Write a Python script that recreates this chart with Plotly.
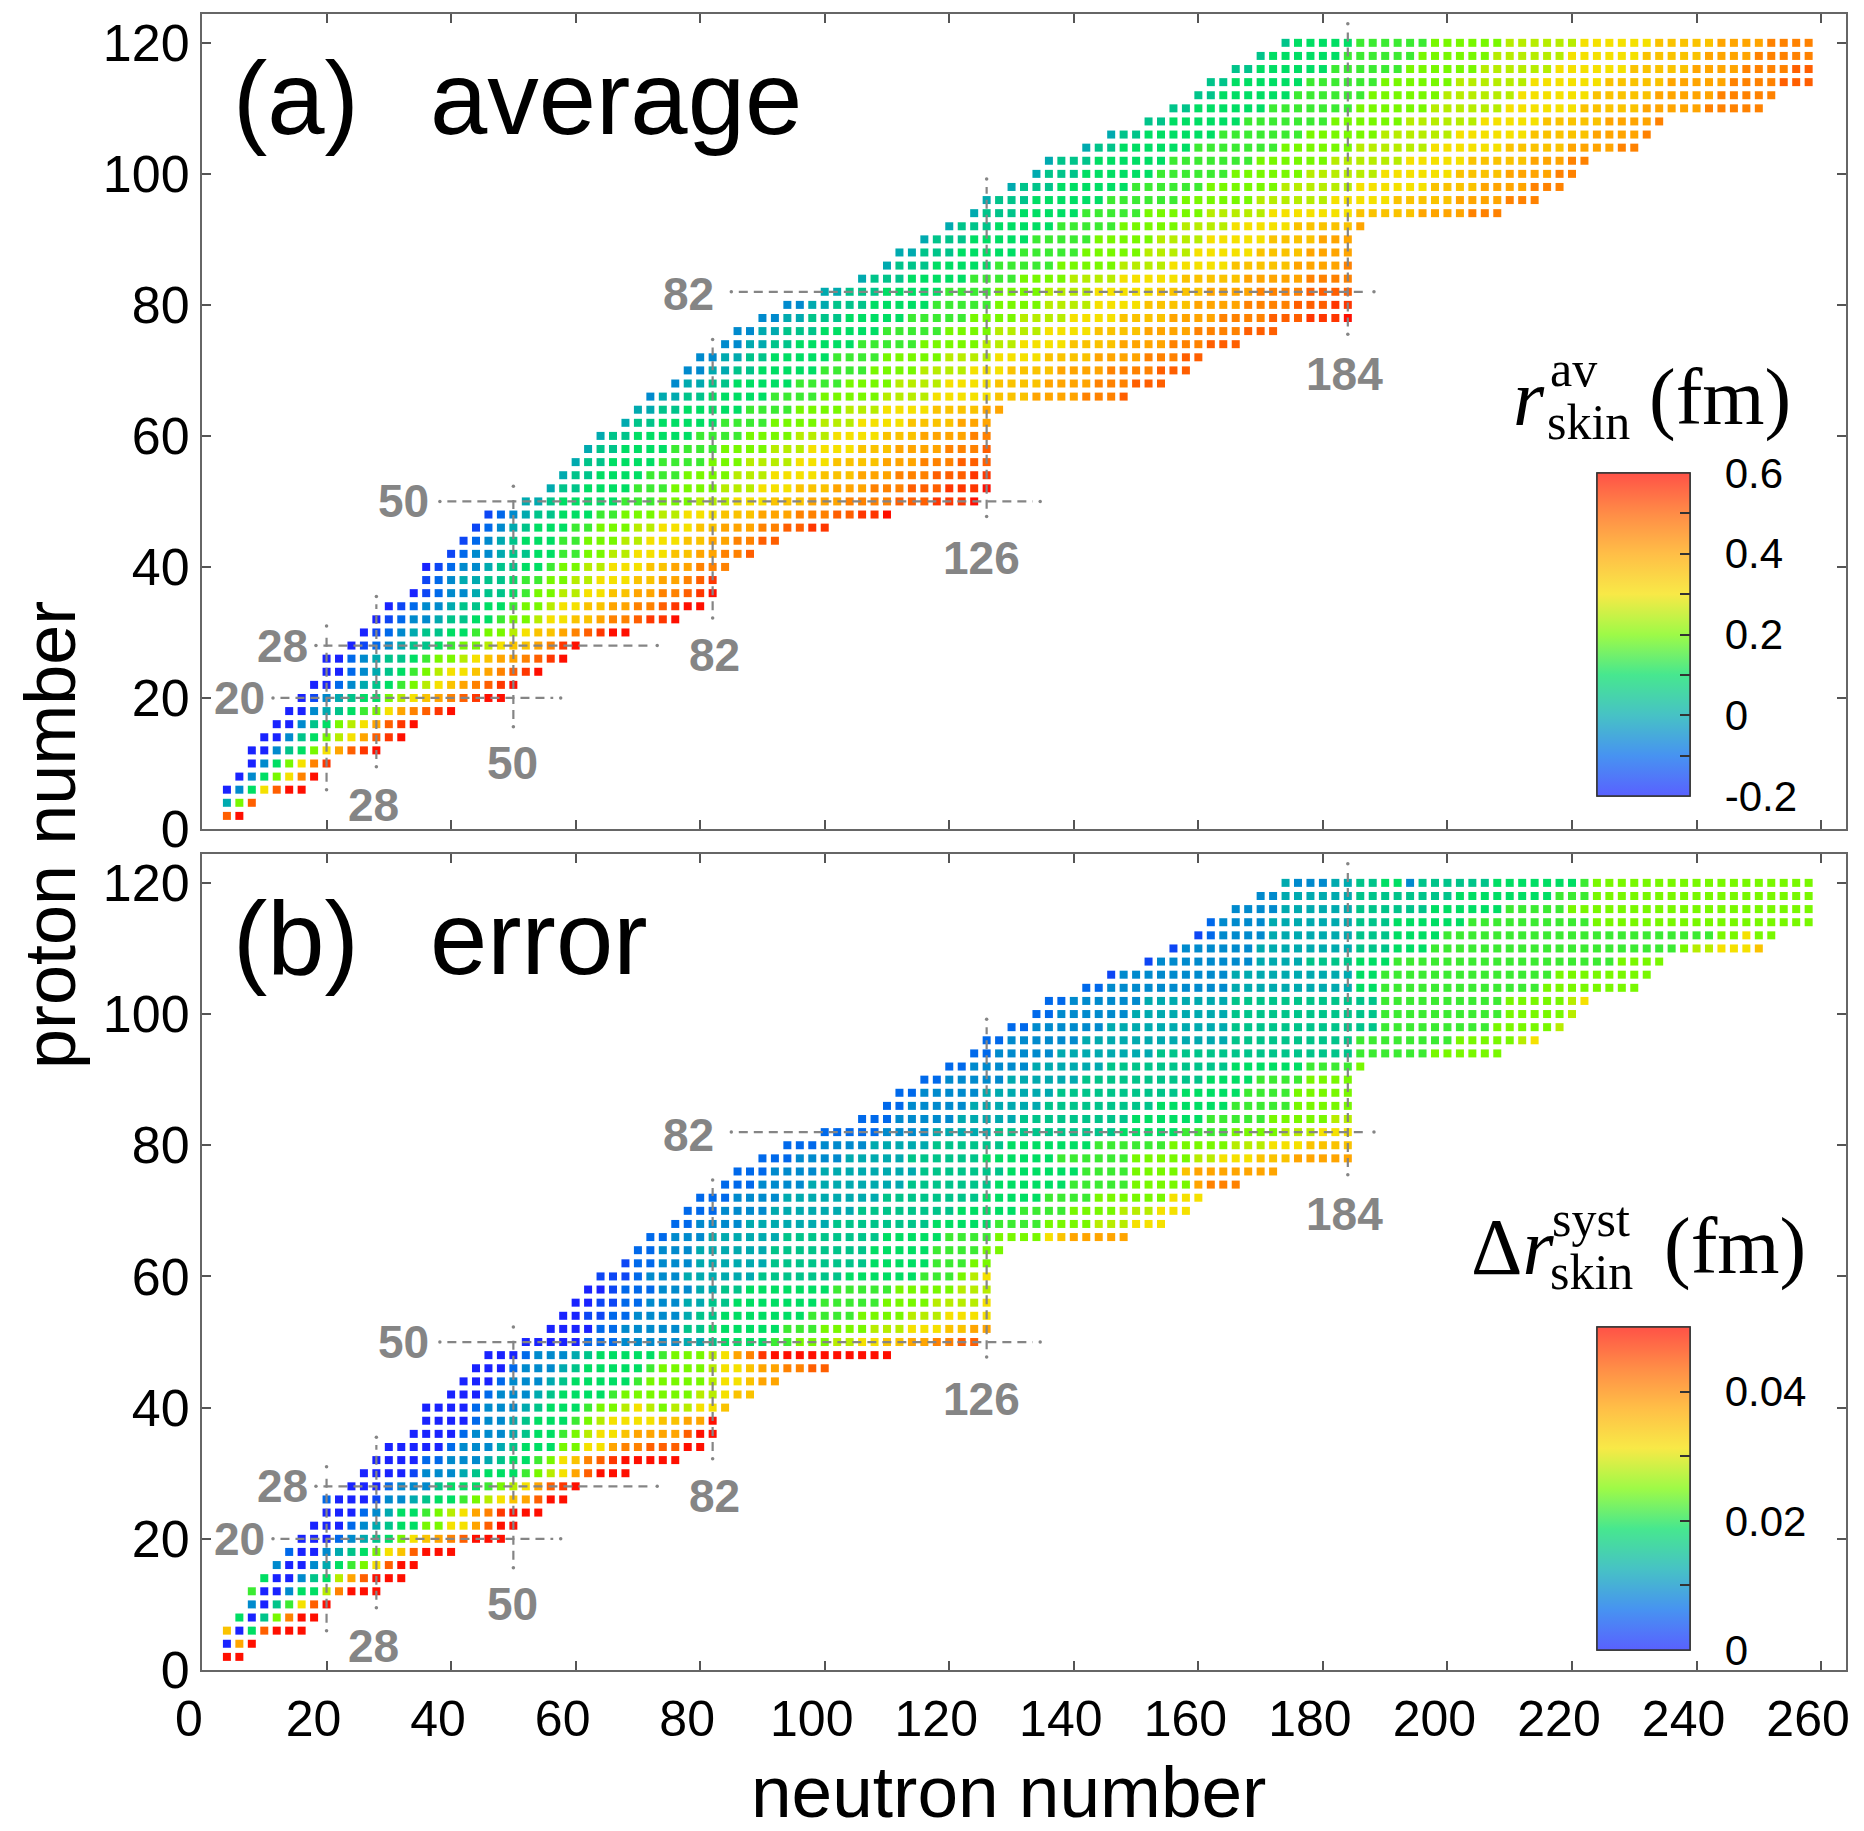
import re
import plotly.graph_objects as go

# ------------------------------------------------------------------ data
# even-even nuclei: one row per proton number Z, first / last neutron number
Z_rows = [2, 4, 6, 8, 10, 12, 14, 16, 18, 20, 22, 24, 26, 28, 30, 32, 34, 36, 38, 40,
          42, 44, 46, 48, 50, 52, 54, 56, 58, 60, 62, 64, 66, 68, 70, 72, 74, 76, 78, 80,
          82, 84, 86, 88, 90, 92, 94, 96, 98, 100, 102, 104, 106, 108, 110, 112, 114, 116, 118, 120]
N_first = [4, 4, 4, 6, 8, 8, 10, 12, 14, 16, 18, 20, 20, 24, 26, 28, 30, 34, 36, 36,
           40, 42, 44, 46, 52, 56, 58, 60, 62, 64, 68, 70, 72, 76, 78, 80, 84, 86, 90, 94,
           100, 106, 110, 112, 116, 120, 124, 126, 130, 134, 136, 142, 146, 152, 156, 160, 162, 166, 170, 174]
N_last = [6, 8, 16, 18, 20, 28, 32, 34, 40, 48, 50, 54, 58, 60, 68, 76, 80, 82, 82, 84,
          88, 92, 100, 110, 124, 126, 126, 126, 126, 126, 126, 128, 148, 154, 158, 160, 166, 172, 184, 184,
          184, 184, 184, 184, 184, 186, 208, 214, 218, 220, 222, 230, 232, 234, 250, 252, 258, 258, 258, 258]

# colour level per nucleus along each row (A = scale minimum ... Q = scale maximum, 17 levels);
# a letter may be followed by a repeat count
r_skin_av_levels = [
    "OQ", "EIO", "ADGKOQQ", "ADGIKNQ", "ADGIKNP", "AADFGIKMOPQ", "AADFGIJKMOPQ", "AADFGIJKMOPQ",
    "AADEFGHIKMNOPQ", "ABDEFGGIJKLMNOPQQ", "AACDEFGHIJKLMNOPQ", "AACDEFGHIJKKLMNOPQ",
    "AACDEFFGHIIJKLMMNOPQ", "ABCDEFFGHIIJKLLMNPQ", "ABCDEFFGGHIIJKLLMNOPQQ",
    "ABCDDEFFGGHIIJKKLLMNNOPPQ", "ABCDDEFFGGHIIJKKLLMMNNOPQQ", "ABCDDEFFGHIIJJKKLLMMNNOPQ",
    "BCDEEFFGHHIIJJKKKLLMMNOP", "ABCDDEFFGGHIIJJKKKLLMMNNN", "BCDDEFFGGHHIIJJKKKLLMMNNO",
    "BCDEFGGGHHIIIJJKKKLLMMNNOO", "BCDEFG3H2I3J2K3L2M3N2O2P2", "BCDEF2G3H2I3J2K3L3M3N3O2P2Q",
    "E2FG5H3I3J3K3L3M3N4O3P3Q", "EF2G4H3I4J3K3L3M3N3O3P3Q", "EF2G4H3I4J3K4L3M3N3O3P2",
    "EF2G4H4I3J4K3L4M3N3O3", "EF2G4H4I4J3K4L3M4N3O", "EF2G5H4I4J3K4L3M4N2",
    "EF2G5H4I4J3K4L4M3", "E2F2G5H4I4J3K4L4M2", "DE2F2G5H4I5J4K5L3M4N3O",
    "DE2F2G5H4I4J4K4L4M4N3O3", "D2E2F2G5H4I4J4K3L4M4N4O3", "D2E2F2G5H4I5J4K4L4M4N3O2",
    "D2E2F2G5H5I5J3K4L4M4N3O3", "D2E2F3G5H5I4J4K4L4M4N4O3", "D2E2F3G5H5I4J4K4L4M4N4O3P3Q",
    "D2E2F3G5H5I4J4K4L4M4N4O3P2", "E2F3G5H4I4J4K5L4M4N4O4", "EF3G5H4I4J4K5L5M5N4",
    "EF3G5H5I5J4K5L5M4N", "E2F3G5H5I5J4K5L4M4", "EF3G5H5I5J4K5L4M3", "EF3G5H5I5J4K5L5M",
    "EF3G5H5I5J5K7L5M4N3", "EF3G6H6I6J6K5L5M4N3", "EF3G6H6I6J6K6L4M4N3",
    "EF3G6H6I6J6K6L4M4N2", "EF3G6H7I6J6K5L5M3N2", "EF2G6H7I6J6K6L5M4N2",
    "EF2G6H7I6J6K6L5M4N", "F2G6H7I6J6K5L5M4N", "F2G6H7I6J6K6L5M5N5", "F2G6H6I6J6K6L5M5N5",
    "F2G6H6I6J6K6L5M5N4O3", "F2G6H6I6J6K6L5M4N4O2", "FG6H6I6J6K6L5M4N5", "FG5H6I6J6K6L5M4N4",
]
dr_skin_syst_levels = [
    "QQ", "AMQ", "LAGOQQQ", "GAFINQQ", "DAFHKOQ", "HAADGGJNQQQ", "GAADFGJMOQQQ", "DAADEGHIKOQQ",
    "CAADEFGIKLOQQQ", "AAACDEFGIKLMNOQQQ", "AAACDEFGGIIKKMOQQ", "AAACDEGGHIJKMNPQQQ",
    "CAAABDDEFGGHIJKLMOQQ", "AAACDDDFGGGHIJKMOPQ", "AAAABDDDEFGGGHIJKMOQQQ",
    "A4C2D3EFG2HIKLNOPQ5", "AAAAACDDDEFGGGIIKKMNNOOOQQ", "AAAACDDDEFGGHIJKKLMMMMOQQ",
    "AAAACDDEFGGGHIJKKKKLLMMQ", "AAAACDDDEFGGGHIIJKJIJJKKL", "AAACDDDEFGGGGHIIIIIIJJKLL",
    "AAACDDDEFGGGGGHIIIIIJKKLMM", "A3CD3EFG5HI4JK2LM2N2O2", "A3CD3EFG5HI3JKMNPQ10",
    "A5C3D5E2FG4H2I3J2K2L2M2N2O2", "A4C2D5F2G6H3I4J3K3L2M2", "A2B2C2D4EF2G7H4I4J3K4",
    "A2B2C2D3E2F2G7H5I4J4K", "A2BC3D3E2F2G7H5I5J3", "B3CD3E6F7G6H3IJK",
    "BC2D3E6F8G5H3I2", "C2D3E6F8G5H4I2", "C2D3E6F8G5H4I4KLM5",
    "C2D4E7F8G5H4I4J3K3", "C3D4E7F8G5H4I4J3K3", "C3D4E8F8G5H4I6K3",
    "C3D4E8F7G6H5I5MN3", "C3D4E8F7G6H4I4LM7", "C3D4E5F6G6H6I5J2K3L3M5",
    "C3D4E5F6G7H6I5J3K3L4", "C5D4E5F10G5H4I4J3K3", "C3D5E5F9G6H5I5J2",
    "C2D5E6F9G6H5I5", "C2D5E6F10G5H4I5", "C2D5E6F10G4H4I4", "C2D5E6F10G6H4I",
    "C2D5E8F16H6I6", "C2D6E12F10H8I5JK", "C2D6E10F12H9I5J", "C2D6E8F12H10I5J",
    "C2D6E7F12H10I5JK", "C2D10E10G2H13I8", "BD9E10G2H14I8", "BD8E4F4G3H18I4",
    "BD6E8F3G3H20IJ2K3L", "BCD4E7F3G4H22I2KI2", "CD4E7F3G6H10I18", "D4E6F6G6H5I20",
    "D2E6F8G8H3I18", "ED3E2F2G2DF6G7HI18",
]
av_range = [-0.2, 0.6]       # fm
err_range = [0.0, 0.05]      # fm
av_ticks = [-0.2, 0.0, 0.2, 0.4, 0.6]
av_ticktext = ["-0.2", "0", "0.2", "0.4", "0.6"]
av_minor = [-0.1, 0.0, 0.1, 0.2, 0.3, 0.4, 0.5]
err_ticks = [0.0, 0.02, 0.04]
err_ticktext = ["0", "0.02", "0.04"]
err_minor = [0.01, 0.02, 0.03, 0.04]

# magic numbers
magic_vert_N = [20, 28, 50, 82, 126, 184]
magic_vert_Zlo = [6.0, 9.5, 15.6, 32.2, 47.7, 75.5]
magic_vert_Zhi = [31.0, 35.5, 52.3, 74.7, 99.2, 122.9]
magic_horiz_Z = [20, 28, 50, 82]
magic_horiz_Nlo = [11.4, 18.3, 38.2, 85.0]
magic_horiz_Nhi = [57.6, 73.1, 134.6, 188.2]
magic_label_text = ["20", "28", "28", "50", "50", "82", "82", "126", "184"]
magic_label_N = [6.0, 13.0, 27.6, 32.3, 49.9, 78.1, 82.3, 125.2, 183.4]
magic_label_Z = [20.0, 28.0, 3.6, 50.0, 10.0, 81.6, 26.5, 41.3, 69.5]

x_ticks = [0, 20, 40, 60, 80, 100, 120, 140, 160, 180, 200, 220, 240, 260]
y_ticks = [0, 20, 40, 60, 80, 100, 120]

# ------------------------------------------------------------------ helpers
W, H = 1864, 1831
L, R, T, B = 202, 1846, 14, 1670


def XP(px):
    return (px - L) / (R - L)


def YP(py):
    return (B - py) / (B - T)


def decode(code):
    out = []
    for ch, num in re.findall(r"([A-Q])(\d*)", code):
        out += [ch] * (int(num) if num else 1)
    return out


def build(level_rows, vrange):
    xs, ys, cs = [], [], []
    lo, hi = vrange
    for z, n0, n1, code in zip(Z_rows, N_first, N_last, level_rows):
        lv = decode(code)
        n_exp = (n1 - n0) // 2 + 1
        if len(lv) != n_exp:
            print("row Z=%d: %d levels, expected %d" % (z, len(lv), n_exp))
        for i, ch in enumerate(lv[:n_exp]):
            xs.append(n0 + 2 * i)
            ys.append(z)
            cs.append(lo + (hi - lo) * (ord(ch) - 65) / 16.0)
    return xs, ys, cs


SAT = [(0.000, (25, 35, 255)), (0.125, (0, 105, 235)), (0.250, (0, 170, 175)),
       (0.375, (0, 222, 100)), (0.500, (120, 248, 0)), (0.625, (245, 225, 0)),
       (0.750, (255, 165, 0)), (0.875, (255, 95, 0)), (1.000, (255, 15, 0))]


def scale(alpha):
    out = []
    for f, (r, g, b) in SAT:
        r2 = round(alpha * r + (1 - alpha) * 255)
        g2 = round(alpha * g + (1 - alpha) * 255)
        b2 = round(alpha * b + (1 - alpha) * 255)
        out.append([f, "rgb(%d,%d,%d)" % (r2, g2, b2)])
    return out


SAT_SCALE = scale(1.0)
PASTEL_SCALE = scale(0.72)

SANS = "Liberation Sans, Arial, sans-serif"
SERIF = "Liberation Serif, Times New Roman, serif"
GRAY = "#858585"

fig = go.Figure()

panels = [
    dict(levels=r_skin_av_levels, rng=av_range, xa="x", ya="y", ticks=av_ticks,
         ticktext=av_ticktext, minor=av_minor, cb_mid=634.5),
    dict(levels=dr_skin_syst_levels, rng=err_range, xa="x2", ya="y2", ticks=err_ticks,
         ticktext=err_ticktext, minor=err_minor, cb_mid=1488.5),
]

for p in panels:
    xs, ys, cs = build(p["levels"], p["rng"])
    fig.add_trace(go.Scatter(
        x=xs, y=ys, mode="markers", xaxis=p["xa"], yaxis=p["ya"],
        marker=dict(symbol="square", size=8, color=cs, cmin=p["rng"][0], cmax=p["rng"][1],
                    colorscale=SAT_SCALE, showscale=False, line=dict(width=0)),
        hoverinfo="skip", showlegend=False))

    # magic-number lines
    lx, ly, dx, dy = [], [], [], []
    for n, z0, z1 in zip(magic_vert_N, magic_vert_Zlo, magic_vert_Zhi):
        lx += [n, n, None]
        ly += [z0 + 1.2, z1 - 1.2, None]
        dx += [n, n]
        dy += [z0, z1]
    for z, n0, n1 in zip(magic_horiz_Z, magic_horiz_Nlo, magic_horiz_Nhi):
        lx += [n0 + 1.2, n1 - 1.2, None]
        ly += [z, z, None]
        dx += [n0, n1]
        dy += [z, z]
    fig.add_trace(go.Scatter(x=lx, y=ly, mode="lines", xaxis=p["xa"], yaxis=p["ya"],
                             line=dict(color=GRAY, width=2.2, dash="9px,6px"),
                             hoverinfo="skip", showlegend=False))
    fig.add_trace(go.Scatter(x=dx, y=dy, mode="markers", xaxis=p["xa"], yaxis=p["ya"],
                             marker=dict(color=GRAY, size=3.5, symbol="circle"),
                             hoverinfo="skip", showlegend=False))
    for t, n, z in zip(magic_label_text, magic_label_N, magic_label_Z):
        fig.add_annotation(x=n, y=z, xref=p["xa"], yref=p["ya"], text=t, showarrow=False,
                           xanchor="center", yanchor="middle",
                           font=dict(family=SANS, size=46, color=GRAY, weight="bold"))

    # colour bar (labels) + overlay colour bar (inner ticks)
    cb_common = dict(x=XP(1597), xanchor="left", xpad=0, y=YP(p["cb_mid"]), yanchor="middle",
                     ypad=0, len=323, lenmode="pixels", thickness=93, thicknessmode="pixels",
                     outlinewidth=1.5, outlinecolor="#333")
    fig.add_trace(go.Scatter(
        x=[None], y=[None], mode="markers", xaxis=p["xa"], yaxis=p["ya"],
        marker=dict(color=[p["rng"][0]], cmin=p["rng"][0], cmax=p["rng"][1],
                    colorscale=PASTEL_SCALE, showscale=True,
                    colorbar=dict(**cb_common, tickvals=p["ticks"], ticktext=p["ticktext"],
                                  ticks="outside", ticklen=26, tickcolor="rgba(0,0,0,0)",
                                  tickfont=dict(family=SANS, size=42, color="black"))),
        hoverinfo="skip", showlegend=False))
    fig.add_trace(go.Scatter(
        x=[None], y=[None], mode="markers", xaxis=p["xa"], yaxis=p["ya"],
        marker=dict(color=[p["rng"][0]], cmin=p["rng"][0], cmax=p["rng"][1],
                    colorscale=PASTEL_SCALE, showscale=True,
                    colorbar=dict(**cb_common, tickvals=p["minor"], ticks="inside",
                                  ticklen=10, tickwidth=2, tickcolor="#333",
                                  showticklabels=False)),
        hoverinfo="skip", showlegend=False))


# ------------------------------------------------------------------ text
def text_at(txt, px, baseline, size, family, desc, **kw):
    fig.add_annotation(x=XP(px), y=YP(baseline + desc * size), xref="paper", yref="paper",
                       text=txt, showarrow=False, xanchor="left", yanchor="bottom",
                       borderpad=0, font=dict(family=family, size=size, color="black"), **kw)


for lab, word, base in [("(a)", "average", 135), ("(b)", "error", 975)]:
    text_at(lab, 232, base, 103, SANS, 0.212)
    text_at(word, 429, base, 103, SANS, 0.212)

# colour bar titles
text_at("<i>r</i>", 1512, 426, 80, SERIF, 0.216)
text_at("av", 1549, 387, 50, SERIF, 0.216)
text_at("skin", 1546, 440, 50, SERIF, 0.216)
text_at("(fm)", 1648, 426, 80, SERIF, 0.216)

text_at("Δ<i>r</i>", 1470, 1275, 80, SERIF, 0.216)
text_at("syst", 1551, 1237, 50, SERIF, 0.216)
text_at("skin", 1549, 1290, 50, SERIF, 0.216)
text_at("(fm)", 1663, 1275, 80, SERIF, 0.216)

# axis titles
fig.add_annotation(x=XP(1008), y=YP(1817 - 0.3465 * 73), xref="paper", yref="paper",
                   text="neutron number", showarrow=False, xanchor="center", yanchor="middle",
                   font=dict(family=SANS, size=73, color="black"))
fig.add_annotation(x=XP(50), y=YP(835), xref="paper", yref="paper", text="proton number",
                   showarrow=False, xanchor="center", yanchor="middle", textangle=-90,
                   font=dict(family=SANS, size=72, color="black"))

# ------------------------------------------------------------------ axes
ax_common = dict(showgrid=False, zeroline=False, showline=True, linecolor="#666", linewidth=2,
                 mirror="ticks", ticks="inside", ticklen=9, tickwidth=2, tickcolor="#555",
                 automargin=False)
xa = dict(ax_common, range=[0, 264], tickvals=x_ticks, domain=[0, 1])
ya = dict(ax_common, range=[0, 124.4], tickvals=y_ticks,
          tickfont=dict(family=SANS, size=52, color="black"), ticklabelstandoff=0)

fig.update_layout(
    width=W, height=H, margin=dict(l=L, r=W - R, t=T, b=H - B, autoexpand=False),
    paper_bgcolor="white", plot_bgcolor="white",
    xaxis=dict(xa, anchor="y", showticklabels=False),
    xaxis2=dict(xa, anchor="y2", showticklabels=True, ticklabelshift=-13,
                ticklabeloverflow="allow",
                tickfont=dict(family=SANS, size=50, color="black"), ticklabelstandoff=4),
    yaxis=dict(ya, domain=[(B - 829) / (B - T), 1], anchor="x"),
    yaxis2=dict(ya, domain=[0, (B - 854) / (B - T)], anchor="x2"),
    showlegend=False,
)

fig.write_html("out.html", config={"displayModeBar": False},
               post_script="document.body.style.margin='0px';")
